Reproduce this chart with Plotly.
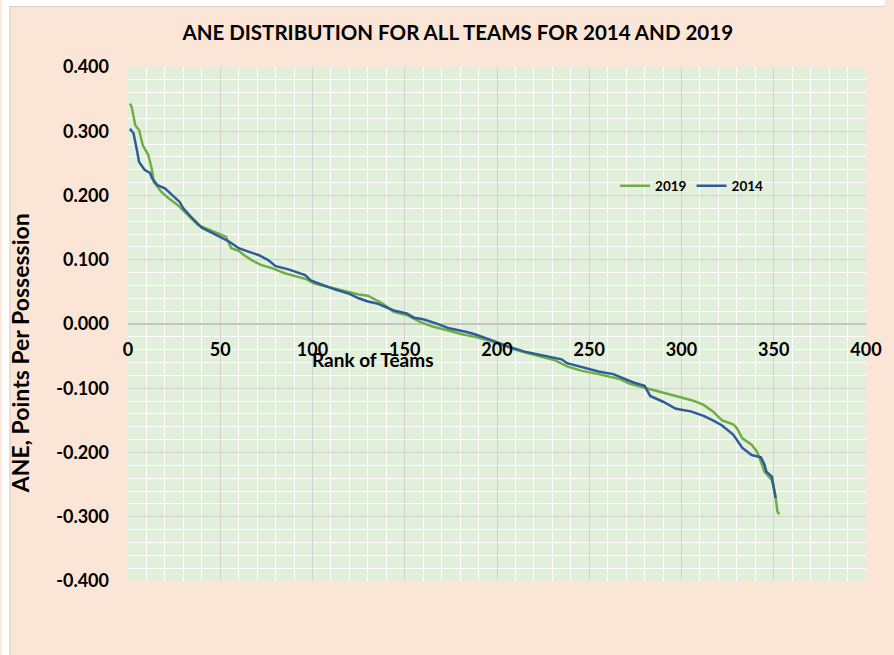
import plotly.graph_objects as go

# ---- data ----
ranks_2019 = [1, 2, 4, 6, 8, 11, 13, 14, 18, 21, 27, 34, 38, 44, 49, 53, 56, 60, 63, 67,
              72, 78, 85, 92, 97, 101, 108, 115, 125, 130, 135, 138, 144, 151, 158, 165,
              172, 181, 188, 196, 203, 210, 220, 231, 238, 246, 255, 262, 267, 272, 280,
              285, 292, 299, 306, 312, 317, 322, 328, 330, 333, 338, 341, 343, 345, 349,
              351, 352, 353]
ane_2019 = [0.343, 0.338, 0.309, 0.302, 0.278, 0.263, 0.240, 0.221, 0.206, 0.198, 0.185,
            0.165, 0.154, 0.147, 0.141, 0.136, 0.118, 0.114, 0.107, 0.0995, 0.092, 0.087,
            0.079, 0.074, 0.0695, 0.063, 0.058, 0.053, 0.046, 0.044, 0.037, 0.032, 0.019,
            0.014, 0.0036, -0.004, -0.009, -0.016, -0.020, -0.026, -0.033, -0.040, -0.048,
            -0.056, -0.066, -0.073, -0.078, -0.082, -0.086, -0.093, -0.099, -0.103, -0.108,
            -0.113, -0.119, -0.126, -0.136, -0.150, -0.156, -0.162, -0.178, -0.188, -0.199,
            -0.214, -0.230, -0.243, -0.269, -0.292, -0.296]

ranks_2014 = [1, 2, 3, 5, 6, 9, 12, 13, 16, 20, 23, 28, 30, 34, 40, 45, 49, 55, 60, 65,
              71, 76, 80, 87, 92, 96, 99, 105, 112, 120, 125, 130, 135, 144, 151, 155, 160,
              167, 174, 183, 188, 197, 206, 215, 224, 235, 238, 246, 255, 263, 269, 274,
              280, 283, 290, 297, 305, 312, 317, 322, 328, 333, 338, 343, 345, 346, 349,
              350, 351]
ane_2014 = [0.304, 0.300, 0.297, 0.268, 0.252, 0.240, 0.235, 0.227, 0.216, 0.211, 0.203,
            0.190, 0.180, 0.167, 0.150, 0.143, 0.137, 0.128, 0.118, 0.1125, 0.107, 0.0995,
            0.090, 0.085, 0.080, 0.076, 0.068, 0.061, 0.054, 0.047, 0.040, 0.035, 0.032,
            0.021, 0.0166, 0.0098, 0.0073, 0.001, -0.0067, -0.012, -0.016, -0.025, -0.035,
            -0.043, -0.048, -0.055, -0.061, -0.067, -0.074, -0.078, -0.0845, -0.091,
            -0.096, -0.112, -0.121, -0.132, -0.136, -0.143, -0.150, -0.158, -0.172,
            -0.193, -0.204, -0.2075, -0.219, -0.230, -0.2375, -0.258, -0.271]

x_tick_vals = [0, 50, 100, 150, 200, 250, 300, 350, 400]
y_tick_vals = [-0.4, -0.3, -0.2, -0.1, 0.0, 0.1, 0.2, 0.3, 0.4]
y_tick_text = ["-0.400", "-0.300", "-0.200", "-0.100", "0.000", "0.100", "0.200", "0.300", "0.400"]

title_text = "ANE DISTRIBUTION FOR ALL TEAMS FOR 2014 AND 2019"
x_title = "Rank of Teams"
y_title = "ANE, Points Per Possession"

GREEN = "#70AD47"
BLUE = "#2E5C99"
FONT = "Lato"

fig = go.Figure()
fig.add_trace(go.Scatter(x=ranks_2019, y=ane_2019, mode="lines", name="2019",
                         line=dict(color=GREEN, width=2.5)))
fig.add_trace(go.Scatter(x=ranks_2014, y=ane_2014, mode="lines", name="2014",
                         line=dict(color=BLUE, width=2.5)))

W, H = 894, 655
L, R, T, B = 128, 19, 67, 74
pw, ph = W - L - R, H - T - B

def px_to_paper_x(px):
    return (px - L) / pw

def px_to_paper_y(py):
    return (H - B - py) / ph

BOLD = dict(family=FONT, weight="bold", color="#000000")

fig.update_layout(
    width=W, height=H,
    margin=dict(l=L, r=R, t=T, b=B, pad=0),
    paper_bgcolor="#FBE5D6",
    plot_bgcolor="#E2EFDA",
    font=dict(family=FONT, color="#000000"),
    title=dict(text="<b>" + title_text + "</b>", x=0.512, xanchor="center",
               y=1 - 33 / H, yanchor="middle", font=dict(size=20.5, **BOLD)),
    showlegend=True,
    legend=dict(orientation="h", x=px_to_paper_x(621), xanchor="left",
                y=px_to_paper_y(186), yanchor="middle", bgcolor="rgba(0,0,0,0)",
                font=dict(size=13.5, **BOLD), itemwidth=30, tracegroupgap=0),
    xaxis=dict(range=[0, 400], tickvals=x_tick_vals, anchor="free", position=0.5,
               showgrid=True, gridcolor="#D2D2D2", gridwidth=1,
               minor=dict(dtick=10, showgrid=True, gridcolor="#FFFFFF", gridwidth=1),
               zeroline=False, showline=False, ticks="",
               ticklabelstandoff=13, tickprefix="<b>", ticksuffix="</b>",
               tickfont=dict(size=18, **BOLD)),
    yaxis=dict(range=[-0.4, 0.4], tickvals=y_tick_vals, ticktext=y_tick_text,
               showgrid=True, gridcolor="#D2D2D2", gridwidth=1,
               minor=dict(dtick=0.02, showgrid=True, gridcolor="#FFFFFF", gridwidth=1),
               zeroline=True, zerolinecolor="#C4C4C4", zerolinewidth=1.5,
               showline=False, ticks="", ticklabelstandoff=18,
               tickprefix="<b>", ticksuffix="</b>",
               tickfont=dict(size=18, **BOLD)),
)

# axis titles as annotations (positioned like the reference)
fig.add_annotation(text="<b>" + x_title + "</b>", xref="paper", yref="paper",
                   x=px_to_paper_x(376), y=px_to_paper_y(359), xanchor="center",
                   yanchor="middle", showarrow=False, font=dict(size=19, **BOLD))
fig.add_annotation(text="<b>" + y_title + "</b>", xref="paper", yref="paper",
                   x=px_to_paper_x(19), y=px_to_paper_y(353), xanchor="center",
                   yanchor="middle", textangle=-90, showarrow=False,
                   font=dict(size=23, **BOLD))

# white strips + thin gray border of the chart area (left/top)
fig.add_shape(type="rect", xref="paper", yref="paper",
              x0=px_to_paper_x(0), x1=px_to_paper_x(8), y0=px_to_paper_y(H), y1=px_to_paper_y(0),
              fillcolor="#FFFFFF", line=dict(width=0))
fig.add_shape(type="rect", xref="paper", yref="paper",
              x0=px_to_paper_x(0), x1=px_to_paper_x(W), y0=px_to_paper_y(6), y1=px_to_paper_y(0),
              fillcolor="#FFFFFF", line=dict(width=0))
fig.add_shape(type="line", xref="paper", yref="paper",
              x0=px_to_paper_x(8.5), x1=px_to_paper_x(8.5), y0=px_to_paper_y(H), y1=px_to_paper_y(6),
              line=dict(color="#D0D0D0", width=1))
fig.add_shape(type="line", xref="paper", yref="paper",
              x0=px_to_paper_x(8), x1=px_to_paper_x(W), y0=px_to_paper_y(6.5), y1=px_to_paper_y(6.5),
              line=dict(color="#D0D0D0", width=1))

fig.write_html("out.html")
